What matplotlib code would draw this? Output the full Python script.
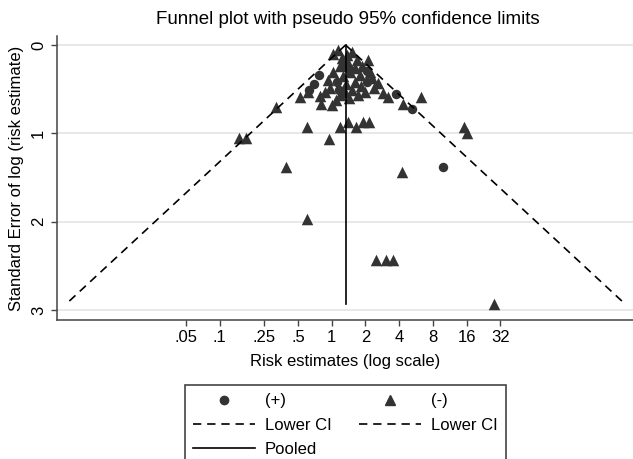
import numpy as np
import matplotlib.pyplot as plt
from matplotlib.lines import Line2D
from matplotlib.ticker import NullLocator

plt.rcParams['font.family'] = ['Liberation Sans', 'DejaVu Sans']

# studies with positive finding (+): risk estimate, standard error of log
pos_rr = [0.77, 0.70, 0.63, 1.11, 1.15, 2.06, 2.06, 1.46, 1.31, 3.75, 5.21, 9.93]
pos_se = [0.34, 0.44, 0.51, 0.415, 0.51, 0.30, 0.415, 0.283, 0.238, 0.555, 0.73, 1.385]

# studies with negative finding (-)
neg_rr = [1.03, 1.14, 1.24, 1.37, 1.52, 1.68, 1.40, 1.19, 1.61, 1.86, 2.11, 2.20,
          1.79, 1.46, 1.26, 1.03, 0.93, 1.34, 1.61, 1.83, 2.29, 2.59, 1.52, 1.31,
          1.72, 1.98, 2.39, 1.19, 0.97, 0.87, 1.43, 1.09,
          0.52, 0.62, 0.786, 0.80, 1.00, 0.32, 2.89, 3.20, 4.31, 6.24,
          0.60, 1.19, 1.41, 1.65, 1.89, 2.17, 0.95, 0.149, 0.172, 15.2, 16.3,
          0.39, 4.22, 0.60, 2.49, 3.05, 3.55, 27.9]
neg_se = [0.102, 0.057, 0.147, 0.113, 0.079, 0.170, 0.204, 0.238, 0.260, 0.238, 0.170, 0.306,
          0.340, 0.306, 0.351, 0.306, 0.396, 0.442, 0.419, 0.464, 0.374, 0.430, 0.510, 0.532,
          0.566, 0.532, 0.487, 0.566, 0.487, 0.532, 0.600, 0.623,
          0.585, 0.53, 0.58, 0.67, 0.68, 0.705, 0.54, 0.585, 0.67, 0.59,
          0.93, 0.925, 0.87, 0.93, 0.87, 0.87, 1.07, 1.05, 1.05, 0.93, 1.00,
          1.38, 1.44, 1.97, 2.43, 2.43, 2.43, 2.93]

pooled = 1.33
se_max = 2.93

xticks = [0.05, 0.1, 0.25, 0.5, 1, 2, 4, 8, 16, 32]
xtick_labels = ['.05', '.1', '.25', '.5', '1', '2', '4', '8', '16', '32']
yticks = [0, 1, 2, 3]

mcol = '#333333'
fs = 12

fig = plt.figure(figsize=(6.33, 4.59), dpi=100)
ax = fig.add_axes([0.0893, 0.3028, 0.9107, 0.6188])
ax.set_xscale('log')

ax.yaxis.grid(True, color='#e6e6e6', lw=1.3)
ax.set_axisbelow(True)

ax.scatter(neg_rr, neg_se, marker='^', s=8.3**2, color=mcol, linewidths=0, zorder=3)
ax.scatter(pos_rr, pos_se, marker='o', s=6.8**2, color=mcol, linewidths=0, zorder=3)

se = np.array([0, se_max])
ax.plot(pooled * np.exp(-1.96 * se), se, color='k', lw=1.2, ls=(0, (5, 3.5)), zorder=4)
ax.plot(pooled * np.exp(1.96 * se), se, color='k', lw=1.2, ls=(0, (5, 3.5)), zorder=4)
ax.plot([pooled, pooled], [0, se_max], color='k', lw=1.2, zorder=4)

ax.set_xlim(0.00348, 491)
ax.set_ylim(3.114, -0.102)
ax.set_xticks(xticks)
ax.set_xticklabels(xtick_labels, fontsize=fs)
ax.xaxis.set_minor_locator(NullLocator())
ax.set_yticks(yticks)
ax.set_yticklabels([str(t) for t in yticks], fontsize=fs, rotation=90, va='center')

for s in ['top', 'right']:
    ax.spines[s].set_visible(False)
for s in ['left', 'bottom']:
    ax.spines[s].set_color('#444444')
    ax.spines[s].set_linewidth(1.1)
ax.tick_params(length=4.5, width=1, color='#444444', pad=3)

ax.set_xlabel('Risk estimates (log scale)', fontsize=fs, labelpad=6)
ax.set_ylabel('Standard Error of log (risk estimate)', fontsize=fs, labelpad=5)
fig.text(0.55, 1 - 20 / 459, 'Funnel plot with pseudo 95% confidence limits',
         ha='center', va='center', fontsize=13.5)

h_pos = Line2D([], [], marker='o', ls='none', color=mcol, ms=6)
h_neg = Line2D([], [], marker='^', ls='none', color=mcol, ms=7)
h_lo = Line2D([], [], color='k', lw=1.2, ls=(0, (5, 3.5)))
h_pool = Line2D([], [], color='k', lw=1.2)
leg = fig.legend([h_pos, h_lo, h_pool, h_neg, h_lo],
                 ['(+)', 'Lower CI', 'Pooled', '(-)', 'Lower CI'],
                 ncol=2, loc='upper left',
                 bbox_to_anchor=(185 / 633, 0.0, 321 / 633, 1 - 385 / 459),
                 mode='expand', fancybox=False, edgecolor='#444444', framealpha=1,
                 fontsize=fs, handlelength=3.7, handletextpad=0.6,
                 columnspacing=1.5, borderpad=0.5, labelspacing=0.55, borderaxespad=0)
leg.get_frame().set_linewidth(1.2)

fig.savefig('out.png', dpi=100)
